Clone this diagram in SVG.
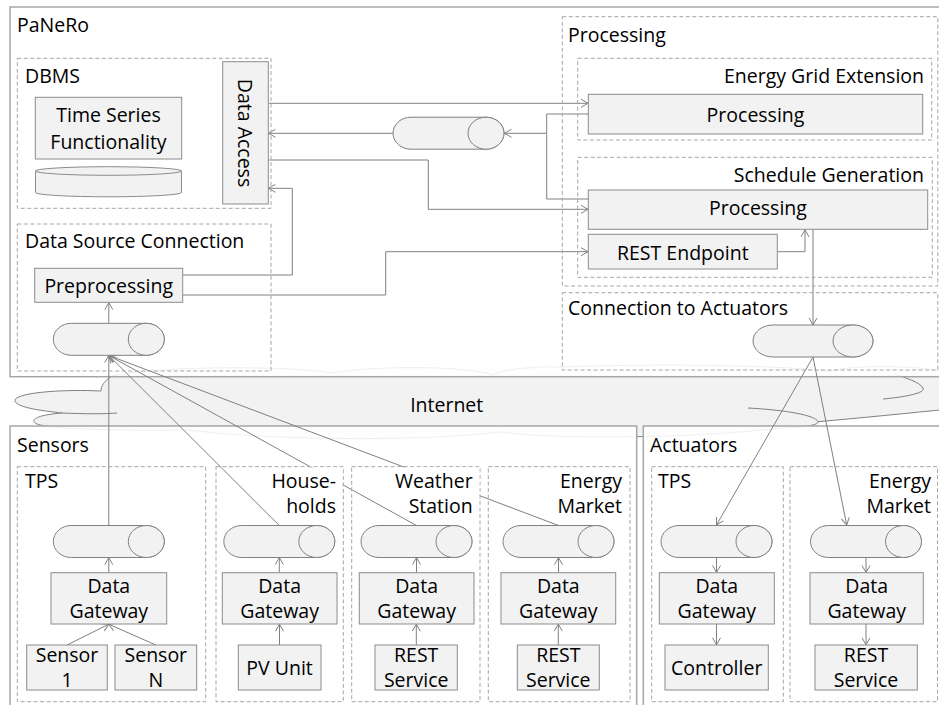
<svg xmlns="http://www.w3.org/2000/svg" width="939" height="705" viewBox="0 0 939 705">
<defs>
<style>
text{font-family:"Open Sans","Liberation Sans",sans-serif;font-size:19.5px;fill:#000}
.m{text-anchor:middle}
.e{text-anchor:end}
.outer{fill:#fff;fill-opacity:.87;stroke:#a6a6a6;stroke-width:1.5}
.dash{fill:none;stroke:#a6a6a6;stroke-dasharray:4 2.5}
.box{fill:#f2f2f2;stroke:#8c8c8c}
.q{fill:#f2f2f2;stroke:#808080}
.c{fill:none;stroke:#808080;stroke-width:1}
.a{marker-end:url(#arr)}
.cloud{fill:#f2f2f2;stroke:#808080}
.cl{fill:none;stroke:#808080}
.bg{fill:#fff}
</style>
<marker id="arr" markerUnits="userSpaceOnUse" markerWidth="10" markerHeight="10" refX="8" refY="5" orient="auto"><path d="M1,1 L8,5 L1,9" fill="none" stroke="#808080"/></marker>
<g id="q"><path class="q" d="M18,0 H93 A18,16 0 0 1 93,32 H18 A18,16 0 0 1 18,0 Z"/><ellipse class="q" cx="93" cy="16" rx="18" ry="16"/></g>
</defs>

<g id="internet">
<path class="cloud" d="M101,391 C60,389 13,393 15,401 C17,408 45,411 62,413 C36,415 30,420 36,423.5 C45,429 120,431 190,430 C260,440 420,442 500,432 C560,440 700,438 780,428 C800,428 820,425 818,421.7 C860,418 910,413 950,409 L950,372 C920,366 860,364 830,371 C760,364 640,364 560,367 C530,366 500,370 493,375 C470,366 380,365 330,373 C300,366 160,365 112,376 C104,381 101,386 101,391 Z"/>
<path class="cl" d="M62,413 C85,414 105,414 117,413"/>
<path class="cl" d="M748,408 C785,410 815,415 818,421.7"/>
<path class="cl" d="M883,399 C905,397 926,393 923,388 C920,382 905,378 895,374"/>
<text class="m" x="446.7" y="411.7">Internet</text>
</g>

<g id="panero">
<rect class="outer" x="10" y="7" width="945" height="369.7"/>
<text x="17" y="32">PaNeRo</text>
</g>
<g id="sensors">
<rect class="outer" x="10" y="426" width="626.7" height="290"/>
<text x="17" y="451.7">Sensors</text>
</g>
<g id="actuators">
<rect class="outer" x="643.3" y="426" width="310" height="290"/>
<text x="650" y="451.7">Actuators</text>
</g>

<g id="connectors">
<path class="c a" d="M268.5,103.3 H588"/>
<path class="c a" d="M393,133.3 H268.5"/>
<path class="c a" d="M588.3,114 H546.7 V133.3 H504.5"/>
<path class="c" d="M588.3,199 H546.7 V133.3"/>
<path class="c a" d="M268.5,160 H428.3 V209.3 H588"/>
<path class="c a" d="M182.7,275 H292.3 V188.3 H268.5"/>
<path class="c a" d="M182.7,295 H385.7 V251.7 H588"/>
<path class="c a" d="M777.3,251.7 H805 V229.8"/>
<path class="c a" d="M813,229.3 V325"/>
<path class="c a" d="M108.8,323.3 V302.6"/>
<path class="c a" d="M108.8,525.5 V355.5"/>
<path class="c a" d="M279.3,525.5 L108.8,355.5"/>
<path class="c a" d="M416.5,525.5 L108.8,355.5"/>
<path class="c a" d="M558.5,525.5 L108.8,355.5"/>
<path class="c a" d="M108.8,572.7 V557.6"/>
<path class="c a" d="M279.3,572.7 V557.6"/>
<path class="c a" d="M416.5,572.7 V557.6"/>
<path class="c a" d="M558.5,572.7 V557.6"/>
<path class="c a" d="M67,645 L108.8,624.2"/>
<path class="c a" d="M155.8,645 L108.8,624.2"/>
<path class="c a" d="M279.5,645 V624.2"/>
<path class="c a" d="M416.3,645 V624.2"/>
<path class="c a" d="M558.3,645 V624.2"/>
<path class="c a" d="M813,357 L716.5,525"/>
<path class="c a" d="M813,357 L846.7,525"/>
<path class="c a" d="M716.5,557.5 V572.5"/>
<path class="c a" d="M716.5,624 V644.8"/>
<path class="c a" d="M866,557.5 V572.5"/>
<path class="c a" d="M866,624 V644.8"/>
</g>

<g id="dbms">
<rect class="dash" x="17.3" y="58.3" width="253.7" height="150"/>
<text x="25" y="83">DBMS</text>
</g>
<g id="timeseries">
<rect class="box" x="35.3" y="97.3" width="146.4" height="61.7"/>
<text class="m" x="108.5" y="122">Time Series</text>
<text class="m" x="108.5" y="149">Functionality</text>
</g>
<g id="database">
<path class="box" d="M35.5,171 V192.5 A73,4.3 0 0 0 181.5,192.5 V171 Z"/>
<ellipse class="box" cx="108.5" cy="171" rx="73" ry="4.3"/>
</g>
<g id="dataaccess">
<rect class="box" x="222.7" y="61.7" width="45.6" height="142.3"/>
<text class="m" transform="translate(237.5,133) rotate(90)">Data Access</text>
</g>
<g id="dbqueue"><use href="#q" x="393" y="117.2"/></g>

<g id="datasourceconnection">
<rect class="dash" x="17.3" y="224" width="253.7" height="147"/>
<text x="25" y="247.7">Data Source Connection</text>
</g>
<g id="preprocessing">
<rect class="box" x="34.7" y="268.3" width="148" height="34"/>
<text class="m" x="108.7" y="292.7">Preprocessing</text>
</g>
<g id="srcqueue"><use href="#q" x="53.3" y="323.3"/></g>

<g id="processing">
<rect class="dash" x="562.3" y="16.7" width="375.5" height="269.3"/>
<text x="568" y="41.7">Processing</text>
</g>
<g id="energygrid">
<rect class="dash" x="577.7" y="58.3" width="354" height="81.7"/>
<text class="e" x="924" y="83">Energy Grid Extension</text>
</g>
<g id="ege-processing">
<rect class="box" x="588.3" y="94.3" width="334.4" height="39.7"/>
<text class="m" x="755.5" y="122">Processing</text>
</g>
<g id="schedulegen">
<rect class="dash" x="577.7" y="157.3" width="354.6" height="120"/>
<text class="e" x="924" y="181.7">Schedule Generation</text>
</g>
<g id="sg-processing">
<rect class="box" x="588.3" y="190" width="339.4" height="39.3"/>
<text class="m" x="758" y="215">Processing</text>
</g>
<g id="rest-endpoint">
<rect class="box" x="588.3" y="234.3" width="189" height="34.7"/>
<text class="m" x="682.8" y="259.5">REST Endpoint</text>
</g>
<g id="conn-actuators">
<rect class="dash" x="562.3" y="292.7" width="375.5" height="77.3"/>
<text x="568" y="315">Connection to Actuators</text>
</g>
<g id="act-queue">
<path class="q" d="M773,325 H853 A20,16 0 0 1 853,357 H773 A20,16 0 0 1 773,325 Z"/>
<ellipse class="q" cx="853" cy="341" rx="20" ry="16"/>
</g>

<g id="s-tps">
<rect class="dash" x="17.3" y="466.7" width="188.4" height="235"/>
<text x="25" y="488.3">TPS</text>
<use href="#q" x="53.3" y="525.5"/>
<rect class="box" x="51" y="572.7" width="115.7" height="51.3"/>
<text class="m" x="108.8" y="593.3">Data</text>
<text class="m" x="108.8" y="618.3">Gateway</text>
</g>
<g id="sensor1">
<rect class="box" x="26.7" y="645" width="80.6" height="45"/>
<text class="m" x="67" y="662.2">Sensor</text>
<text class="m" x="67" y="687.3">1</text>
</g>
<g id="sensorN">
<rect class="box" x="115" y="645" width="81.7" height="45"/>
<text class="m" x="155.8" y="662.2">Sensor</text>
<text class="m" x="155.8" y="687.3">N</text>
</g>

<g id="s-households">
<rect class="dash" x="216" y="466.7" width="127.3" height="235"/>
<rect class="bg" x="300" y="467.5" width="42.5" height="21"/>
<text class="e" x="336" y="488.3">House-</text>
<text class="e" x="336" y="513.3">holds</text>
<use href="#q" x="223.8" y="525.5"/>
<rect class="box" x="222.3" y="572.7" width="114.7" height="51.3"/>
<text class="m" x="279.6" y="593.3">Data</text>
<text class="m" x="279.6" y="618.3">Gateway</text>
</g>
<g id="pvunit">
<rect class="box" x="238.3" y="645" width="82.7" height="45"/>
<text class="m" x="279.6" y="675">PV Unit</text>
</g>

<g id="s-weather">
<rect class="dash" x="351.7" y="466.7" width="128.3" height="235"/>
<rect class="bg" x="395" y="467.3" width="84.3" height="30"/>
<text class="e" x="472.7" y="488.3">Weather</text>
<text class="e" x="472.7" y="513.3">Station</text>
<use href="#q" x="361" y="525.5"/>
<rect class="box" x="359.3" y="572.7" width="114.7" height="51.3"/>
<text class="m" x="416.6" y="593.3">Data</text>
<text class="m" x="416.6" y="618.3">Gateway</text>
</g>
<g id="w-rest">
<rect class="box" x="375" y="645" width="82.3" height="45"/>
<text class="m" x="416.2" y="662.2">REST</text>
<text class="m" x="416.2" y="687.3">Service</text>
</g>

<g id="s-energymarket">
<rect class="dash" x="488.3" y="466.7" width="141.7" height="235"/>
<text class="e" x="622" y="488.3">Energy</text>
<text class="e" x="622" y="513.3">Market</text>
<use href="#q" x="503" y="525.5"/>
<rect class="box" x="501" y="572.7" width="114.7" height="51.3"/>
<text class="m" x="558.3" y="593.3">Data</text>
<text class="m" x="558.3" y="618.3">Gateway</text>
</g>
<g id="em-rest">
<rect class="box" x="517.3" y="645" width="82" height="45"/>
<text class="m" x="558.3" y="662.2">REST</text>
<text class="m" x="558.3" y="687.3">Service</text>
</g>

<g id="a-tps">
<rect class="dash" x="651.7" y="466.7" width="131.6" height="235"/>
<text x="658" y="488.3">TPS</text>
<use href="#q" x="661" y="525.5"/>
<rect class="box" x="659.3" y="572.7" width="115" height="51.3"/>
<text class="m" x="716.8" y="593.3">Data</text>
<text class="m" x="716.8" y="618.3">Gateway</text>
</g>
<g id="controller">
<rect class="box" x="665" y="645" width="103.3" height="45"/>
<text class="m" x="716.7" y="675">Controller</text>
</g>

<g id="a-energymarket">
<rect class="dash" x="790" y="466.7" width="147.5" height="235"/>
<text class="e" x="931" y="488.3">Energy</text>
<text class="e" x="931" y="513.3">Market</text>
<use href="#q" x="810.5" y="525.5"/>
<rect class="box" x="810" y="572.7" width="113.3" height="51.3"/>
<text class="m" x="866.7" y="593.3">Data</text>
<text class="m" x="866.7" y="618.3">Gateway</text>
</g>
<g id="a-rest">
<rect class="box" x="815" y="645" width="102.3" height="45"/>
<text class="m" x="866" y="662.2">REST</text>
<text class="m" x="866" y="687.3">Service</text>
</g>
</svg>
